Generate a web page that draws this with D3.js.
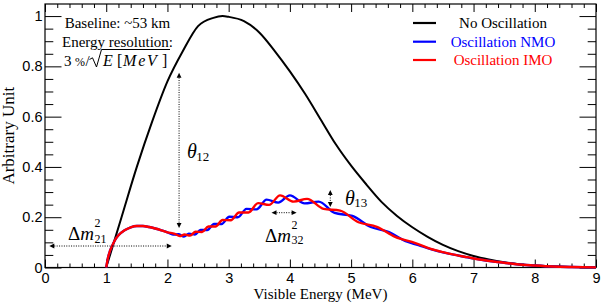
<!DOCTYPE html>
<html><head><meta charset="utf-8">
<script src="https://cdn.jsdelivr.net/npm/d3@7"></script>
<style>body{margin:0;background:#fff;} svg{display:block;background:#fff}</style>
</head><body><svg id="c" width="601" height="305"></svg>
<script>
// ---------- data ----------
const xTicks = [0,1,2,3,4,5,6,7,8,9];
const yTicks = [0,0.2,0.4,0.6,0.8,1];
const yTickLabels = ["0","0.2","0.4","0.6","0.8","1"];

const blackE = [1.0,1.1,1.25,1.5,1.75,2.0,2.25,2.5,2.75,2.9,3.0,3.25,3.5,3.75,4.0,4.25,4.5,4.75,5.0,5.25,5.5,5.75,6.0,6.25,6.5,6.75,7.0,7.25,7.5,7.75,8.0,8.25,8.5,9.0];
const blackY = [0,0.08,0.20,0.40,0.58,0.74,0.86,0.96,0.993,1.0,0.997,0.98,0.935,0.862,0.78,0.69,0.59,0.49,0.405,0.33,0.26,0.205,0.16,0.122,0.09,0.065,0.046,0.032,0.021,0.013,0.008,0.005,0.003,0.001];

const nmoE = [1.0,1.03,1.06,1.1,1.15,1.2,1.3,1.4,1.5,1.6,1.7,1.8,1.9,2.0,2.09,2.18,2.27,2.35,2.45,2.54,2.65,2.76,2.885,3.01,3.15,3.29,3.455,3.62,3.81,4.0,4.24,4.47,4.73,5.02,5.32,5.62,5.88,6.1,6.3,6.5,6.7,6.9,7.1,7.3,7.5,7.7,8.0,8.3,8.6,9.0];
const nmoY = [0,0.04,0.065,0.088,0.112,0.128,0.148,0.160,0.165,0.165,0.161,0.155,0.148,0.140,0.131,0.132,0.123,0.134,0.131,0.149,0.149,0.173,0.173,0.202,0.200,0.233,0.231,0.270,0.258,0.287,0.255,0.262,0.217,0.205,0.161,0.141,0.106,0.089,0.073,0.060,0.050,0.040,0.032,0.025,0.019,0.013,0.008,0.004,0.002,0.0005];

const imoE = [1.0,1.03,1.06,1.1,1.15,1.2,1.3,1.4,1.5,1.6,1.7,1.8,1.9,2.0,2.12,2.20,2.28,2.37,2.46,2.565,2.67,2.785,2.90,3.035,3.17,3.325,3.48,3.66,3.84,4.06,4.28,4.55,4.82,5.12,5.42,5.72,6.05,6.3,6.5,6.7,6.9,7.1,7.3,7.5,7.7,8.0,8.3,8.6,9.0];
const imoY = [0,0.04,0.065,0.088,0.112,0.128,0.148,0.160,0.165,0.165,0.161,0.155,0.148,0.140,0.134,0.125,0.131,0.127,0.142,0.141,0.163,0.163,0.189,0.188,0.219,0.219,0.256,0.249,0.287,0.262,0.273,0.233,0.226,0.180,0.162,0.122,0.097,0.074,0.061,0.050,0.041,0.032,0.025,0.019,0.013,0.008,0.004,0.002,0.0005];

const seriesNames = ["No Oscillation","Oscillation NMO","Oscillation IMO"];
const seriesColors = ["#000000","#0000ff","#ff0000"];

// ---------- layout ----------
const svg = d3.select("#c");
const M = {l:45, r:596, t:4, b:267.5};
const x = d3.scaleLinear().domain([0,9]).range([M.l, M.r]);
const y = d3.scaleLinear().domain([0,1.048]).range([M.b, M.t]);
const SANS = "'Liberation Sans', Arial, sans-serif";
const SERIF = "'Liberation Serif', 'Times New Roman', serif";

const xMinor = d3.range(0, 9.0001, 0.2).filter(v => Math.abs(v - Math.round(v)) > 1e-6);
const yMinor = d3.range(0, 1.0401, 0.05).filter(v => Math.abs(v*5 - Math.round(v*5)) > 1e-6);

function styleAxis(g){
  g.select(".domain").remove();
  g.selectAll(".tick line").attr("stroke","#000").attr("stroke-width",1);
  g.selectAll("text").attr("fill","#000").style("font-family",SANS).style("font-size","14.5px");
}
// bottom
svg.append("g").attr("transform",`translate(0,${M.b})`)
  .call(d3.axisBottom(x).tickValues(xTicks).tickSize(-8).tickSizeOuter(0).tickPadding(5.5).tickFormat(d3.format("d"))).call(styleAxis);
svg.append("g").attr("transform",`translate(0,${M.b})`)
  .call(d3.axisBottom(x).tickValues(xMinor).tickSize(-4).tickSizeOuter(0).tickFormat("")).call(styleAxis);
// top
svg.append("g").attr("transform",`translate(0,${M.t})`)
  .call(d3.axisTop(x).tickValues(xTicks).tickSize(-8).tickSizeOuter(0).tickFormat("")).call(styleAxis);
svg.append("g").attr("transform",`translate(0,${M.t})`)
  .call(d3.axisTop(x).tickValues(xMinor).tickSize(-4).tickSizeOuter(0).tickFormat("")).call(styleAxis);
// left
svg.append("g").attr("transform",`translate(${M.l},0)`)
  .call(d3.axisLeft(y).tickValues(yTicks).tickSize(-16.5).tickSizeOuter(0).tickPadding(2.5).tickFormat((d,i)=>yTickLabels[i])).call(styleAxis);
svg.append("g").attr("transform",`translate(${M.l},0)`)
  .call(d3.axisLeft(y).tickValues(yMinor).tickSize(-8.3).tickSizeOuter(0).tickFormat("")).call(styleAxis);
// right
svg.append("g").attr("transform",`translate(${M.r},0)`)
  .call(d3.axisRight(y).tickValues(yTicks).tickSize(-16.5).tickSizeOuter(0).tickFormat("")).call(styleAxis);
svg.append("g").attr("transform",`translate(${M.r},0)`)
  .call(d3.axisRight(y).tickValues(yMinor).tickSize(-8.3).tickSizeOuter(0).tickFormat("")).call(styleAxis);

// frame
svg.append("rect").attr("x",M.l).attr("y",M.t).attr("width",M.r-M.l).attr("height",M.b-M.t)
  .attr("fill","none").attr("stroke","#000").attr("stroke-width",1.2);

// axis titles
svg.append("text").attr("x",x(4.5)).attr("y",298.5).attr("text-anchor","middle")
  .style("font-family",SERIF).style("font-size","15px").text("Visible Energy (MeV)");
svg.append("text").attr("transform",`translate(13.5,${(M.t+M.b)/2}) rotate(-90)`).attr("text-anchor","middle")
  .style("font-family",SERIF).style("font-size","17px").text("Arbitrary Unit");

// ---------- curves ----------
const line = d3.line().x(d=>x(d[0])).y(d=>y(d[1])).curve(d3.curveMonotoneX);
const plotG = svg.append("g");
const seriesData = [d3.zip(blackE,blackY), d3.zip(nmoE,nmoY), d3.zip(imoE,imoY)];
const widths = [2, 2.4, 2.4];
seriesData.forEach((d,i)=>{
  plotG.append("path").datum(d).attr("d",line).attr("fill","none")
    .attr("stroke",seriesColors[i]).attr("stroke-width",widths[i]).attr("stroke-linejoin","round");
});

// ---------- legend ----------
const legY = [23, 41.7, 60];
seriesNames.forEach((n,i)=>{
  svg.append("line").attr("x1",413).attr("x2",436).attr("y1",legY[i]).attr("y2",legY[i])
    .attr("stroke",seriesColors[i]).attr("stroke-width",2.2);
  svg.append("text").attr("x",503).attr("y",legY[i]+5).attr("text-anchor","middle")
    .attr("fill",seriesColors[i]).style("font-family",SERIF).style("font-size","15px").text(n);
});

// ---------- info text ----------
const info = svg.append("g").style("font-family",SERIF).style("font-size","15px");
info.append("text").attr("x",117.5).attr("y",28).attr("text-anchor","middle").text("Baseline: ~53 km");
info.append("text").attr("x",117.5).attr("y",47).attr("text-anchor","middle").text("Energy resolution:");
info.append("text").attr("x",64).attr("y",66).text("3");
info.append("text").attr("x",75).attr("y",66).style("font-size","12px").text("%");
info.append("text").attr("x",85.5).attr("y",66).text("/");
info.append("path").attr("d","M89.5,59.5 L92.5,57.8 L96.5,67 L101.5,49.5 L170,49.5").attr("fill","none").attr("stroke","#000").attr("stroke-width",1);
info.append("text").attr("x",103).attr("y",66).style("font-style","italic").style("font-size","16px").text("E");
info.append("text").attr("x",117).attr("y",66).style("font-size","16px").text("[");
info.append("text").attr("x",123).attr("y",66).style("font-style","italic").style("font-size","16px").style("letter-spacing","1.8px").text("MeV");
info.append("text").attr("x",162).attr("y",66).style("font-size","16px").text("]");

// ---------- annotations ----------
const ann = svg.append("g");
function arrow(x1,y1,x2,y2){
  const dx=x2-x1, dy=y2-y1, L=Math.hypot(dx,dy), ux=dx/L, uy=dy/L, hl=5, hw=2.4;
  ann.append("line").attr("x1",x1+ux*hl).attr("y1",y1+uy*hl).attr("x2",x2-ux*hl).attr("y2",y2-uy*hl)
    .attr("stroke","#000").attr("stroke-width",1).attr("stroke-dasharray","1,1.4");
  const head=(px,py,sx,sy)=>`M${px},${py} L${px+sx*hl-sy*hw},${py+sy*hl+sx*hw} L${px+sx*hl+sy*hw},${py+sy*hl-sx*hw}Z`;
  ann.append("path").attr("d",head(x1,y1,ux,uy)).attr("fill","#000");
  ann.append("path").attr("d",head(x2,y2,-ux,-uy)).attr("fill","#000");
}
arrow(x(0.07), y(0.0855), x(2.07), y(0.0855));
arrow(x(2.19), y(0.775), x(2.19), y(0.157));
arrow(x(3.70), y(0.218), x(4.11), y(0.218));
arrow(x(4.66), y(0.308), x(4.66), y(0.241));

function deltaM(E,v,sub){
  const x0=x(E), y0=y(v);
  const t=ann.append("text").attr("x",x0).attr("y",y0).style("font-family",SERIF).style("font-size","19px");
  t.append("tspan").text("Δ");
  t.append("tspan").style("font-style","italic").text("m");
  const w = t.node().getComputedTextLength();
  ann.append("text").attr("x",x0+w+0.5).attr("y",y0-13).style("font-family",SERIF).style("font-size","12px").text("2");
  ann.append("text").attr("x",x0+w+0.5).attr("y",y0+2.5).style("font-family",SERIF).style("font-size","12px").text(sub);
}
function theta(E,v,sub){
  const x0=x(E), y0=y(v);
  const t=ann.append("text").attr("x",x0).attr("y",y0).style("font-family",SERIF).style("font-size","20px").style("font-style","italic").text("θ");
  const w = t.node().getComputedTextLength();
  ann.append("text").attr("x",x0+w-0.5).attr("y",y0+2.5).style("font-family",SERIF).style("font-size","13px").text(sub);
}
deltaM(0.376, 0.109, "21");
deltaM(3.595, 0.103, "32");
theta(2.32, 0.435, "12");
theta(4.90, 0.249, "13");
</script></body></html>
